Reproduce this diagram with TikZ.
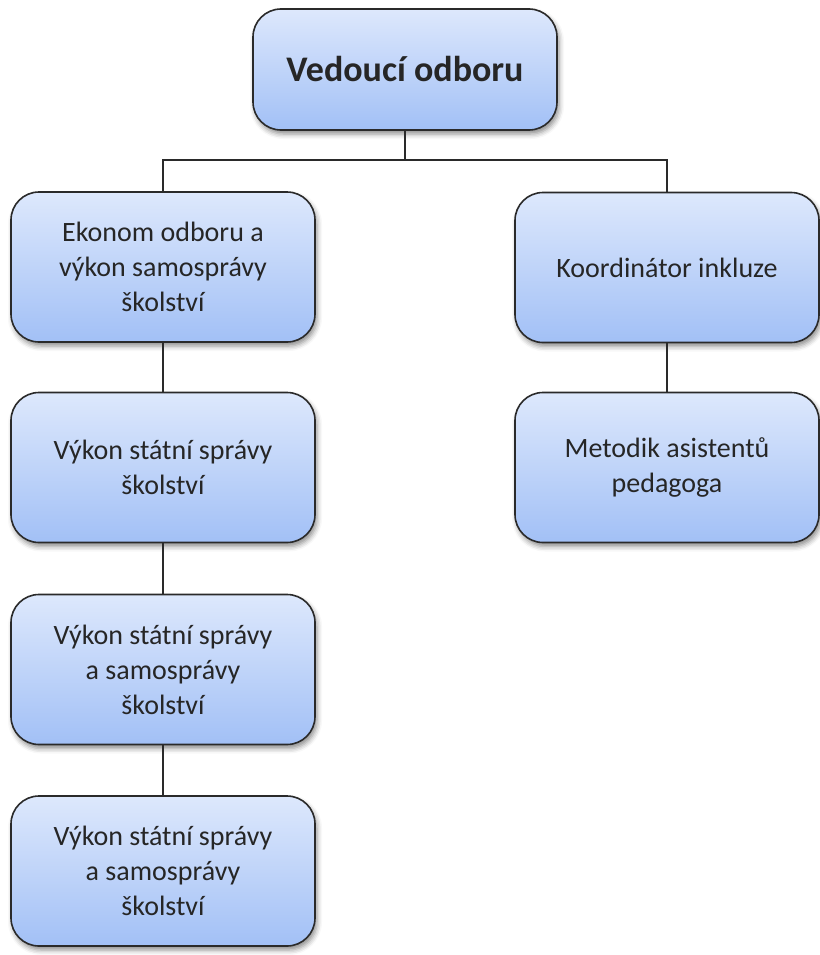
\documentclass[tikz,border=0pt]{standalone}
\usepackage{fontspec}
\setmainfont{Carlito}
\usetikzlibrary{shadows.blur}
\definecolor{boxtop}{HTML}{DDE8FC}
\definecolor{boxbot}{HTML}{A2C0F6}
\definecolor{edge}{HTML}{2A2A2A}
\tikzset{
  orgbox/.style={draw=edge, line width=1.6pt, rounded corners=28pt,
    top color=boxtop, bottom color=boxbot,
    minimum width=304pt, minimum height=150pt, align=center,
    font=\fontsize{28}{35}\selectfont, text=black!85,
    blur shadow={shadow xshift=2pt, shadow yshift=-4pt,
      shadow blur radius=5pt, shadow opacity=45}},
  link/.style={draw=edge, line width=1.6pt}
}
\begin{document}
\begin{tikzpicture}[x=1pt, y=-1pt]
\useasboundingbox (0,0) rectangle (819,955);
% head of the department
\node[orgbox, minimum height=121pt, font=\fontsize{36}{42}\selectfont\bfseries] (head) at (405,69.5) {Vedoucí odboru};
% left branch
\node[orgbox] (ekon) at (163,267) {Ekonom odboru a\\výkon samosprávy\\školství};
\node[orgbox] (vss) at (163,467.5) {Výkon státní správy\\školství};
\node[orgbox] (vsa) at (163,669.5) {Výkon státní správy\\a samosprávy\\školství};
\node[orgbox] (vsb) at (163,871) {Výkon státní správy\\a samosprávy\\školství};
% right branch
\node[orgbox] (koord) at (667,267.5) {Koordinátor inkluze};
\node[orgbox] (metod) at (667,467.5) {Metodik asistentů\\pedagoga};
\coordinate (bus) at (405,160);
\draw[link] (head.south) -- (bus) -| (ekon.north);
\draw[link] (bus) -| (koord.north);
\draw[link] (ekon.south) -- (vss.north);
\draw[link] (vss.south) -- (vsa.north);
\draw[link] (vsa.south) -- (vsb.north);
\draw[link] (koord.south) -- (metod.north);
\end{tikzpicture}
\end{document}
